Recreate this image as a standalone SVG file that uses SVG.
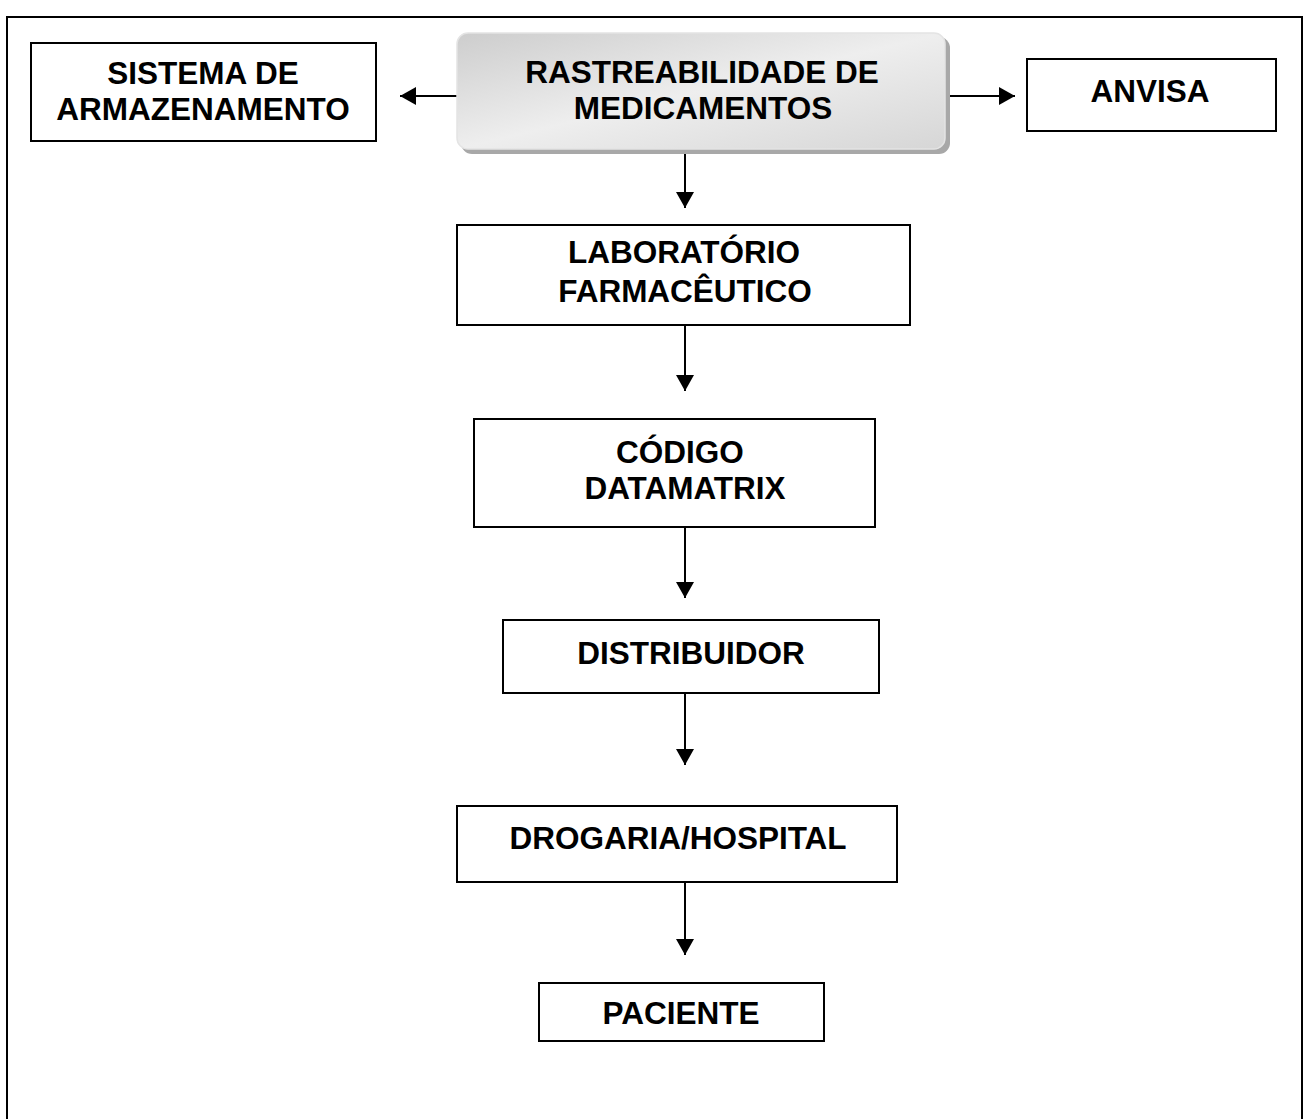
<svg xmlns="http://www.w3.org/2000/svg" width="1310" height="1119" viewBox="0 0 1310 1119">
<style>
.box{fill:#fff;stroke:#000;stroke-width:2}
.t{font-family:"Liberation Sans",Arial,sans-serif;font-weight:bold;font-size:31.5px;fill:#000;text-anchor:middle}
.c{stroke:#000;stroke-width:2;fill:none;marker-end:url(#ah)}
</style>
<defs>
<marker id="ah" viewBox="0 0 16 18" refX="16" refY="9" markerWidth="16" markerHeight="18" markerUnits="userSpaceOnUse" orient="auto">
<path d="M0,0 L16,9 L0,18 Z" fill="#000"/>
</marker>
<linearGradient id="g" x1="0" y1="0" x2="1" y2="1">
<stop offset="0" stop-color="#cdcdcd"/>
<stop offset="0.5" stop-color="#eeeeee"/>
<stop offset="1" stop-color="#d6d6d6"/>
</linearGradient>
</defs>
<rect x="0" y="0" width="1310" height="1119" fill="#fff"/>
<rect x="7" y="17" width="1295" height="1130" fill="none" stroke="#000" stroke-width="2"/>
<g id="connectors">
<line class="c" x1="458" y1="96" x2="400" y2="96"/>
<line class="c" x1="948" y1="96" x2="1015" y2="96"/>
<line class="c" x1="685" y1="150" x2="685" y2="208"/>
<line class="c" x1="685" y1="325" x2="685" y2="391"/>
<line class="c" x1="685" y1="527" x2="685" y2="598"/>
<line class="c" x1="685" y1="693" x2="685" y2="765"/>
<line class="c" x1="685" y1="882" x2="685" y2="955"/>
</g>
<g id="n-rastreabilidade">
<rect x="461" y="37" width="489" height="117" rx="11" fill="#a8a8a8"/>
<rect x="457" y="33" width="488" height="116" rx="11" fill="url(#g)" stroke="#e4e4e4" stroke-width="1.5"/>
<text class="t" x="702" y="83">RASTREABILIDADE DE</text>
<text class="t" x="703" y="119">MEDICAMENTOS</text>
</g>
<g id="n-sistema">
<rect class="box" x="31" y="43" width="345" height="98"/>
<text class="t" x="203" y="84">SISTEMA DE</text>
<text class="t" x="203" y="120">ARMAZENAMENTO</text>
</g>
<g id="n-anvisa">
<rect class="box" x="1027" y="59" width="249" height="72"/>
<text class="t" x="1150" y="102">ANVISA</text>
</g>
<g id="n-laboratorio">
<rect class="box" x="457" y="225" width="453" height="100"/>
<text class="t" x="684" y="263">LABORATÓRIO</text>
<text class="t" x="685" y="302">FARMACÊUTICO</text>
</g>
<g id="n-codigo">
<rect class="box" x="474" y="419" width="401" height="108"/>
<text class="t" x="680" y="463">CÓDIGO</text>
<text class="t" x="685" y="499">DATAMATRIX</text>
</g>
<g id="n-distribuidor">
<rect class="box" x="503" y="620" width="376" height="73"/>
<text class="t" x="691" y="664">DISTRIBUIDOR</text>
</g>
<g id="n-drogaria">
<rect class="box" x="457" y="806" width="440" height="76"/>
<text class="t" x="678" y="849">DROGARIA/HOSPITAL</text>
</g>
<g id="n-paciente">
<rect class="box" x="539" y="983" width="285" height="58"/>
<text class="t" x="681" y="1024">PACIENTE</text>
</g>
</svg>
